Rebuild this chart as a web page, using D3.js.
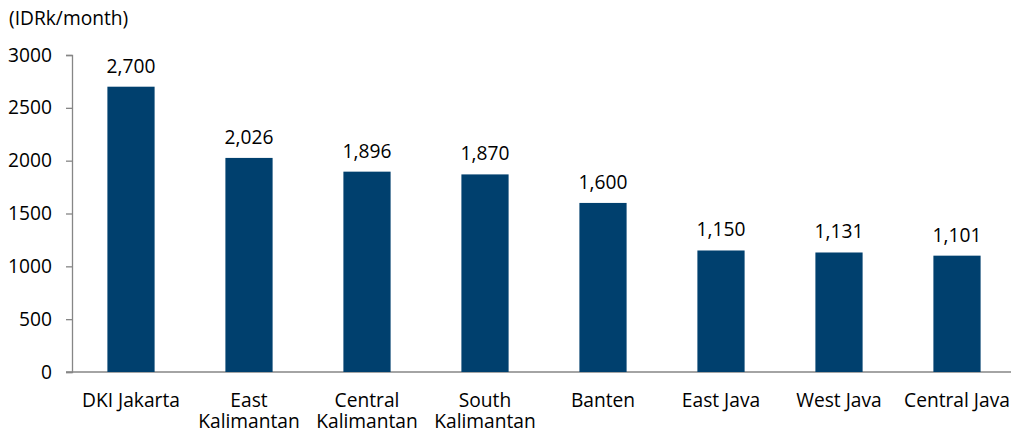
<!DOCTYPE html>
<html>
<head>
<meta charset="utf-8">
<script src="https://cdn.jsdelivr.net/npm/d3@7"></script>
<style>
  html, body { margin: 0; padding: 0; background: #fff; }
  svg text { font-family: "Open Sans", "Noto Sans", sans-serif; fill: #000; }
</style>
</head>
<body>
<svg id="chart" width="1011" height="434"></svg>
<script>
// Average monthly wage by province (IDR thousand per month)
const categories = ["DKI Jakarta", "East Kalimantan", "Central Kalimantan", "South Kalimantan",
                    "Banten", "East Java", "West Java", "Central Java"];
const categoryLines = [["DKI Jakarta"], ["East", "Kalimantan"], ["Central", "Kalimantan"],
                       ["South", "Kalimantan"], ["Banten"], ["East Java"], ["West Java"], ["Central Java"]];
const values = [2700, 2026, 1896, 1870, 1600, 1150, 1131, 1101];
const yTicks = [0, 500, 1000, 1500, 2000, 2500, 3000];
const unitLabel = "(IDRk/month)";

const svg = d3.select("#chart");
const fontSize = 19.2;

const x = d3.scaleBand()
  .domain(categories)
  .range([72, 1016])
  .paddingInner(0.6)
  .paddingOuter(0.3);

const y = d3.scaleLinear().domain([0, 3000]).range([372, 55]);

// y axis
const yAxis = svg.append("g").attr("transform", "translate(72,0)")
  .call(d3.axisLeft(y).tickValues(yTicks).tickSize(6).tickPadding(14).tickFormat(d3.format("d")));
yAxis.select(".domain").attr("stroke", "#868686").attr("stroke-width", 1.3);
yAxis.selectAll(".tick line").attr("stroke", "#868686").attr("stroke-width", 1.3);
yAxis.selectAll(".tick text").attr("font-size", fontSize).attr("font-family", null).attr("fill", "#000");

// x axis baseline
svg.append("line")
  .attr("x1", 66).attr("x2", 1011)
  .attr("y1", y(0)).attr("y2", y(0))
  .attr("stroke", "#868686").attr("stroke-width", 1.3);

// bars
svg.append("g").selectAll("rect")
  .data(values)
  .join("rect")
  .attr("x", (d, i) => x(categories[i]))
  .attr("width", x.bandwidth())
  .attr("y", d => y(d))
  .attr("height", d => y(0) - y(d))
  .attr("fill", "#00406e");

// value labels
svg.append("g").selectAll("text")
  .data(values)
  .join("text")
  .attr("x", (d, i) => x(categories[i]) + x.bandwidth() / 2)
  .attr("y", d => y(d) - 14)
  .attr("text-anchor", "middle")
  .attr("font-size", fontSize)
  .text(d => d3.format(",")(d));

// category labels, one text element per line
const labelRows = categories.flatMap((c, i) =>
  categoryLines[i].map((line, j) => ({ c, line, j })));
svg.append("g").selectAll("text")
  .data(labelRows)
  .join("text")
  .attr("x", d => x(d.c) + x.bandwidth() / 2)
  .attr("y", d => 407 + d.j * 21)
  .attr("text-anchor", "middle")
  .attr("font-size", fontSize)
  .text(d => d.line);

// unit label
svg.append("text")
  .attr("x", 9).attr("y", 25)
  .attr("font-size", fontSize)
  .text(unitLabel);
</script>
</body>
</html>
